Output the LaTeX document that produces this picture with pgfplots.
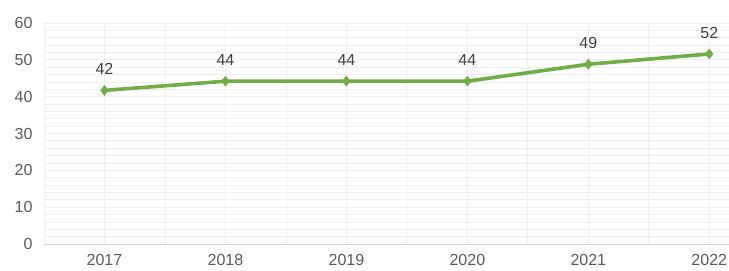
\documentclass[border=0pt]{standalone}
\usepackage{pgfplots}
\pgfplotsset{compat=1.18}
\usepackage{fontspec}
\setmainfont{Liberation Sans}
\definecolor{lgreen}{HTML}{70AD47}
\definecolor{gridc}{HTML}{EEEEEE}
\definecolor{tickc}{HTML}{595959}
\definecolor{labc}{HTML}{404040}
\begin{document}
\begin{tikzpicture}
\begin{axis}[
  scale only axis,
  width=685bp, height=221bp,
  xmin=-0.5, xmax=5.163,
  ymin=0, ymax=60,
  xtick={0,1,2,3,4,5},
  xticklabels={2017,2018,2019,2020,2021,2022},
  extra x ticks={-0.5,0.5,1.5,2.5,3.5,4.5},
  extra x tick labels={},
  extra x tick style={grid=major, major grid style={gridc, line width=0.8bp}},
  ytick={0,10,...,60},
  minor y tick num=4,
  grid=both,
  major grid style={gridc, line width=0.8bp},
  minor grid style={gridc, line width=0.8bp},
  axis line style={draw=none},
  axis x line*=bottom,
  axis y line*=left,
  tick style={draw=none},
  major tick length=0pt, minor tick length=0pt,
  tick label style={font=\fontsize{16bp}{18bp}\selectfont, text=tickc},
  yticklabel style={xshift=-8bp},
  xticklabel style={yshift=-7bp},
  /pgf/number format/assume math mode=true,
  clip=false,
  nodes near coords,
  point meta=explicit symbolic,
  every node near coord/.append style={font=\fontsize{16bp}{18bp}\selectfont, text=labc, anchor=center, yshift=21bp},
]
\addplot[lgreen, line width=3.6bp, mark=diamond*, mark size=5bp, mark options={line width=0.5bp}]
  coordinates {(0,41.7)[42] (1,44.2)[44] (2,44.2)[44] (3,44.2)[44] (4,48.8)[49] (5,51.6)[52]};
\draw[color=black!15, line width=1bp] (axis cs:-0.5,0) -- (axis cs:5.163,0);
\end{axis}
\pgfresetboundingbox
\path[use as bounding box] (-44bp,-27bp) rectangle (685bp,244bp);
\end{tikzpicture}
\end{document}
